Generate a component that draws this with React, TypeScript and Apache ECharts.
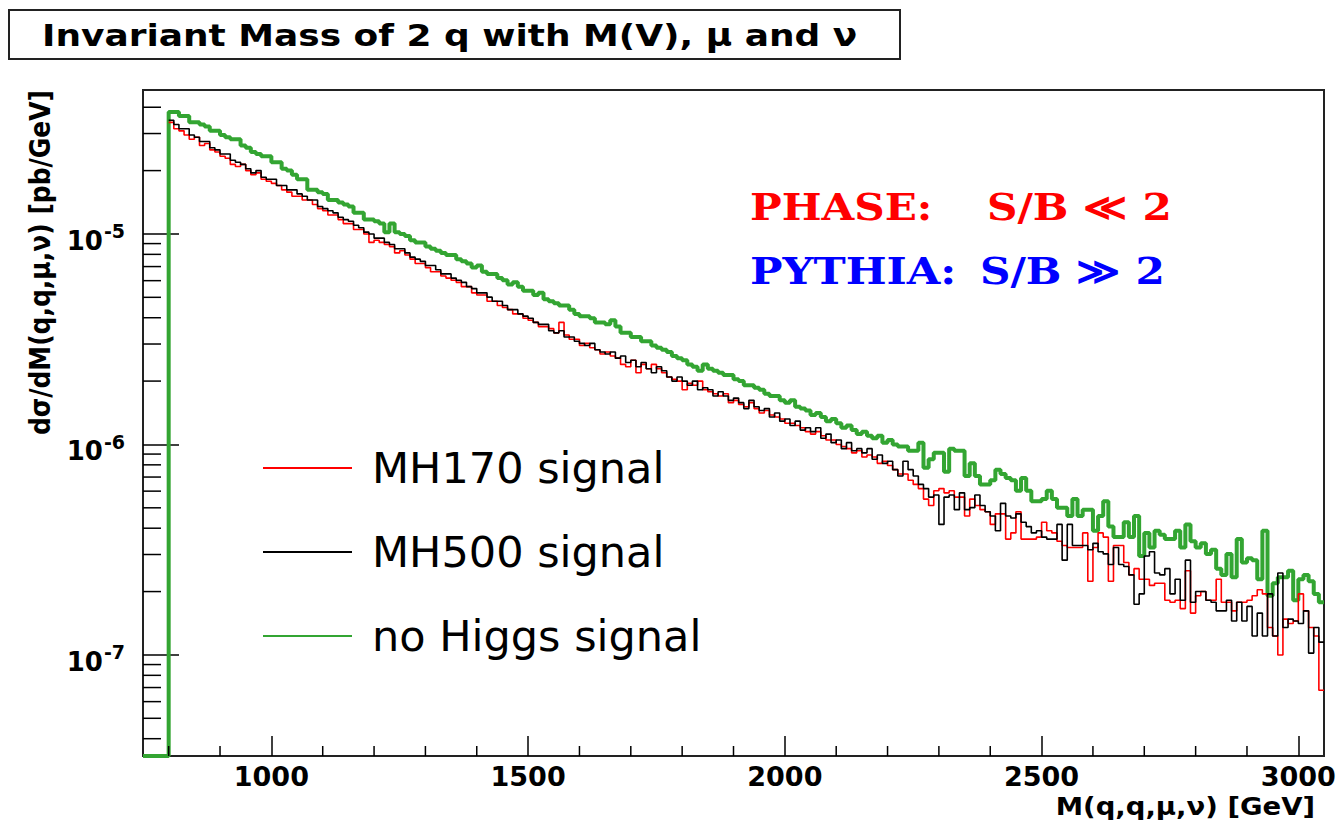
import React, { useEffect, useRef } from "react";
import * as echarts from "echarts";

// Histogram binning (GeV)
const BIN_START = 800;
const BIN_WIDTH = 10;
const X_MIN = 750;
const X_MAX = 3050;
// log y range (pb/GeV)
const Y_MIN = 3.31e-8;
const Y_MAX = 4.83e-5;
// bin contents below are in units of 1e-9 pb/GeV
const UNIT = 1e-9;

const MH170_SIGNAL = [
  33900, 31600, 30900, 29500, 28200, 28800, 26300, 26900, 25100, 24500,
  23400, 22900, 21400, 20900, 21400, 20000, 19100, 19500, 18200, 17800,
  17400, 17000, 16200, 15800, 15100, 15100, 14500, 14500, 13800, 13200,
  12900, 12300, 12300, 11700, 11200, 11200, 10500, 10500, 10000, 9120,
  9330, 9120, 8910, 8710, 8130, 8320, 7940, 7590, 7240, 7240,
  6920, 6610, 6610, 6310, 6170, 6030, 5890, 5620, 5620, 5250,
  5130, 5130, 4790, 4790, 4570, 4470, 4370, 4170, 4170, 3980,
  3890, 3800, 3630, 3630, 3550, 3390, 3800, 3310, 3160, 3160,
  2950, 3020, 2880, 2820, 2690, 2750, 2630, 2570, 2400, 2340,
  2510, 2190, 2400, 2290, 2400, 2290, 2190, 2090, 2040, 2000,
  1820, 1950, 1910, 2000, 1820, 1780, 1740, 1700, 1740, 1580,
  1620, 1550, 1510, 1580, 1480, 1410, 1450, 1380, 1350, 1320,
  1260, 1260, 1230, 1200, 1150, 1120, 1150, 1100, 1050, 1050,
  1000, 977, 955, 912, 933, 871, 891, 871, 813, 832,
  794, 759, 724, 724, 676, 646, 617, 550, 513, 603,
  617, 589, 603, 562, 562, 457, 550, 513, 490, 479,
  417, 468, 468, 355, 380, 479, 355, 355, 355, 363,
  427, 389, 380, 347, 331, 324, 324, 324, 380, 224,
  324, 380, 363, 224, 331, 331, 275, 240, 257, 229,
  229, 214, 219, 219, 182, 178, 182, 166, 251, 158,
  191, 200, 182, 182, 229, 178, 178, 162, 178, 178,
  182, 191, 204, 195, 135, 123, 100, 148, 141, 145,
  195, 162, 135, 123, 68,
];

const MH500_SIGNAL = [
  34700, 33100, 31600, 31600, 29500, 28800, 27500, 27500, 25700, 25100,
  24000, 24000, 22400, 21900, 21400, 20400, 19500, 20000, 18600, 18200,
  18200, 17000, 17000, 16200, 16200, 15500, 15100, 14500, 14500, 13500,
  13200, 12900, 12600, 12000, 11700, 11500, 11000, 10700, 10200, 10000,
  9550, 9550, 9120, 8910, 8510, 8510, 8130, 7760, 7590, 7410,
  7080, 7080, 6760, 6460, 6460, 6170, 6030, 5890, 5620, 5500,
  5250, 5250, 5010, 4790, 4790, 4570, 4370, 4370, 4170, 4070,
  3980, 3800, 3720, 3720, 3470, 3390, 3470, 3240, 3240, 3090,
  3020, 2950, 3020, 2820, 2750, 2690, 2750, 2570, 2630, 2450,
  2510, 2340, 2450, 2290, 2190, 2340, 2240, 2090, 2000, 2090,
  2000, 1910, 2000, 1820, 1860, 1820, 1700, 1780, 1700, 1620,
  1660, 1580, 1480, 1620, 1510, 1450, 1480, 1350, 1410, 1290,
  1320, 1230, 1290, 1170, 1200, 1150, 1200, 1070, 1120, 1020,
  1050, 955, 1020, 933, 955, 912, 955, 851, 891, 813,
  832, 759, 708, 832, 759, 708, 646, 617, 562, 575,
  417, 562, 575, 490, 589, 490, 501, 575, 513, 479,
  457, 389, 525, 457, 447, 468, 427, 407, 380, 389,
  363, 355, 355, 417, 282, 417, 331, 331, 331, 316,
  339, 309, 302, 269, 324, 269, 263, 240, 174, 195,
  295, 309, 245, 240, 257, 195, 229, 182, 282, 178,
  200, 200, 182, 178, 162, 162, 182, 145, 178, 145,
  170, 123, 158, 123, 195, 123, 245, 135, 148, 145,
  141, 162, 102, 135, 115,
];

const NO_HIGGS_SIGNAL = [
  38000, 38000, 36300, 36300, 33900, 33900, 33100, 32400, 30900, 30900,
  29500, 28800, 28200, 28200, 26300, 25700, 24500, 24000, 23400, 23400,
  21900, 21900, 20400, 20000, 19100, 18200, 18200, 16200, 16200, 15800,
  15500, 14500, 14500, 14100, 13800, 13500, 12600, 12600, 11700, 11700,
  11500, 11200, 10200, 11200, 10200, 10000, 9770, 9330, 9120, 9120,
  8710, 8510, 8320, 8130, 7940, 7940, 7590, 7410, 7240, 6920,
  7080, 6610, 6460, 6460, 6170, 6030, 5750, 5890, 5620, 5370,
  5370, 5130, 5250, 4900, 4790, 4680, 4570, 4570, 4370, 4170,
  4070, 4070, 3980, 3800, 3800, 3720, 3890, 3630, 3390, 3390,
  3240, 3240, 3090, 3090, 2950, 2880, 2820, 2750, 2630, 2570,
  2510, 2400, 2340, 2240, 2400, 2290, 2240, 2190, 2140, 2140,
  2040, 2000, 1910, 1910, 1860, 1820, 1740, 1700, 1700, 1620,
  1580, 1620, 1510, 1480, 1450, 1380, 1410, 1350, 1290, 1320,
  1260, 1200, 1230, 1170, 1120, 1150, 1100, 1070, 1100, 1020,
  1050, 1000, 977, 977, 933, 933, 1020, 776, 851, 912,
  912, 741, 955, 933, 933, 708, 813, 708, 646, 646,
  676, 759, 724, 692, 676, 603, 692, 603, 537, 537,
  550, 603, 550, 501, 501, 457, 550, 457, 490, 490,
  389, 457, 537, 407, 363, 363, 427, 363, 457, 295,
  380, 324, 389, 372, 355, 355, 389, 324, 417, 347,
  324, 339, 302, 316, 257, 240, 302, 234, 355, 275,
  288, 282, 229, 389, 191, 219, 234, 234, 251, 182,
  229, 240, 224, 195, 178,
];

const X_MAJOR = [1000, 1500, 2000, 2500, 3000];
const X_MINOR = [800, 900, 1100, 1200, 1300, 1400, 1600, 1700, 1800, 1900, 2100, 2200, 2300, 2400, 2600, 2700, 2800, 2900];
const Y_MINOR = [
  4e-8, 5e-8, 6e-8, 7e-8, 8e-8, 9e-8,
  2e-7, 3e-7, 4e-7, 5e-7, 6e-7, 7e-7, 8e-7, 9e-7,
  2e-6, 3e-6, 4e-6, 5e-6, 6e-6, 7e-6, 8e-6, 9e-6,
  2e-5, 3e-5, 4e-5,
];

const TITLE = "Invariant Mass of 2 q with M(V), \u03bc and \u03bd";
const Y_TITLE = "d\u03c3/dM(q,q,\u03bc,\u03bd) [pb/GeV]";
const X_TITLE = "M(q,q,\u03bc,\u03bd) [GeV]";
const SERIES_NAMES = ["MH170 signal", "MH500 signal", "no Higgs signal"];

const RED = "#ff0000";
const BLACK = "#000000";
const GREEN = "#33a532";

function histPoints(vals: number[], fromFloor: boolean) {
  const pts: number[][] = fromFloor
    ? [
        [X_MIN, Y_MIN],
        [BIN_START, Y_MIN],
      ]
    : [];
  vals.forEach((v, i) => pts.push([BIN_START + i * BIN_WIDTH, v * UNIT]));
  pts.push([BIN_START + vals.length * BIN_WIDTH, vals[vals.length - 1] * UNIT]);
  return pts;
}

function tickSeries(data: number[][], dx: number, dy: number) {
  return {
    type: "custom",
    silent: true,
    z: 4,
    encode: { x: 0, y: 1 },
    data,
    renderItem: (_params: any, api: any) => {
      const p = api.coord([api.value(0), api.value(1)]);
      return {
        type: "line",
        shape: { x1: p[0], y1: p[1], x2: p[0] + dx, y2: p[1] + dy },
        style: { stroke: "#000", lineWidth: 1.5 },
      };
    },
  };
}

const FONT = "DejaVu Sans";

function textEl(
  x: number,
  y: number,
  text: string,
  size: number,
  family: string,
  fill: string,
  align: string,
  extra: any = {}
) {
  return {
    type: "text",
    z: 11,
    x,
    y,
    ...extra,
    style: {
      text,
      fontSize: size,
      fontWeight: "bold",
      fontFamily: family,
      fill,
      align,
      verticalAlign: "middle",
      textAlign: align,
      textVerticalAlign: "middle",
    },
  };
}

function buildOption() {
  return {
    animation: false,
    backgroundColor: "#ffffff",
    grid: {
      left: 143,
      right: 19,
      top: 90,
      bottom: 73,
      show: true,
      borderColor: "#222",
      borderWidth: 2,
      backgroundColor: "transparent",
    },
    legend: {
      data: SERIES_NAMES,
      orient: "vertical",
      left: 263,
      top: 446,
      padding: 0,
      icon: "rect",
      itemWidth: 89,
      itemHeight: 2,
      itemGap: 40,
      selectedMode: false,
      textStyle: {
        fontFamily: FONT,
        fontSize: 43,
        color: "#000",
        lineHeight: 44,
        padding: [0, 0, 0, 15],
      },
    },
    xAxis: {
      type: "value",
      min: X_MIN,
      max: X_MAX,
      axisLine: { show: false },
      splitLine: { show: false },
      axisTick: {
        show: true,
        inside: true,
        length: 20,
        customValues: X_MAJOR,
        lineStyle: { color: "#000", width: 1.5 },
      },
      axisLabel: {
        customValues: X_MAJOR,
        margin: 7,
        fontSize: 27,
        fontWeight: "bold",
        fontFamily: FONT,
        color: "#000",
        formatter: (v: number) => String(v),
      },
    },
    yAxis: {
      type: "log",
      logBase: 10,
      min: Y_MIN,
      max: Y_MAX,
      axisLine: { show: false },
      splitLine: { show: false },
      axisTick: {
        show: true,
        inside: true,
        length: 36,
        lineStyle: { color: "#000", width: 1.5 },
      },
      axisLabel: {
        showMinLabel: false,
        showMaxLabel: false,
        margin: 18,
        formatter: (v: number) => {
          const e = Math.round(Math.log10(v));
          return "{b|10}{s|" + e + "}";
        },
        rich: {
          b: {
            fontSize: 26,
            fontWeight: "bold",
            fontFamily: FONT,
            color: "#000",
            lineHeight: 30,
            padding: [14, 0, 0, 0],
          },
          s: {
            fontSize: 19,
            fontWeight: "bold",
            fontFamily: FONT,
            color: "#000",
            lineHeight: 19,
            verticalAlign: "top",
            padding: [3, 0, 0, 1],
          },
        },
      },
    },
    series: [
      {
        name: SERIES_NAMES[2],
        type: "line",
        step: "end",
        symbol: "none",
        showSymbol: false,
        color: GREEN,
        lineStyle: { color: GREEN, width: 4 },
        data: histPoints(NO_HIGGS_SIGNAL, true),
        z: 2,
      },
      {
        name: SERIES_NAMES[0],
        type: "line",
        step: "end",
        symbol: "none",
        showSymbol: false,
        color: RED,
        lineStyle: { color: RED, width: 1.6 },
        data: histPoints(MH170_SIGNAL, false),
        z: 2,
      },
      {
        name: SERIES_NAMES[1],
        type: "line",
        step: "end",
        symbol: "none",
        showSymbol: false,
        color: BLACK,
        lineStyle: { color: BLACK, width: 1.6 },
        data: histPoints(MH500_SIGNAL, false),
        z: 2,
      },
      tickSeries(Y_MINOR.map((v) => [X_MIN, v]), 18, 0),
      tickSeries(X_MINOR.map((m) => [m, Y_MIN]), 0, -10),
    ],
    graphic: [
      {
        type: "rect",
        z: 10,
        shape: { x: 9, y: 10, width: 891, height: 49 },
        style: { fill: "#fff", stroke: "#222", lineWidth: 2 },
      },
      textEl(42, 35, TITLE, 31, FONT, "#000", "left", { scaleX: 1.16 }),
      textEl(40, 90, Y_TITLE, 25, FONT, "#000", "right", {
        rotation: Math.PI / 2,
        scaleY: 1.15,
      }),
      textEl(1315, 806, X_TITLE, 25, FONT, "#000", "right", { scaleX: 1.1 }),
      textEl(750, 207, "PHASE:", 37, "DejaVu Serif", RED, "left", { scaleX: 1.14 }),
      textEl(987, 207, "S/B \u226a 2", 37, "DejaVu Serif", RED, "left", { scaleX: 1.14 }),
      textEl(750, 271, "PYTHIA:", 37, "DejaVu Serif", "#0000ff", "left", { scaleX: 1.17 }),
      textEl(980, 271, "S/B \u226b 2", 37, "DejaVu Serif", "#0000ff", "left", { scaleX: 1.14 }),
    ],
  };
}

export default function App() {
  const ref = useRef<HTMLDivElement>(null);
  useEffect(() => {
    if (!ref.current) return;
    const chart = echarts.init(ref.current, null, { renderer: "svg" });
    chart.setOption(buildOption() as any);
    return () => {
      chart.dispose();
    };
  }, []);
  return (
    <div
      ref={ref}
      style={{
        position: "fixed",
        left: 0,
        top: 0,
        width: 1343,
        height: 829,
        background: "#fff",
      }}
    />
  );
}
